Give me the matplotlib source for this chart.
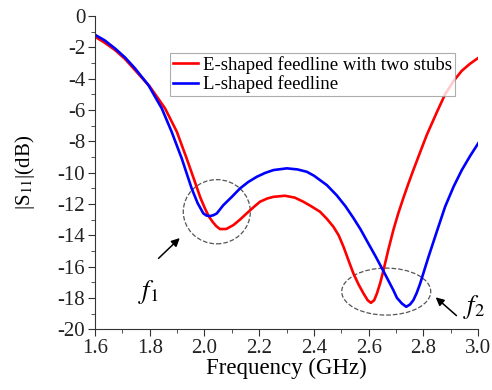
import numpy as np
import matplotlib
matplotlib.use('Agg')
import matplotlib.pyplot as plt
from matplotlib.patches import Ellipse
from matplotlib.ticker import MultipleLocator, FormatStrFormatter, FuncFormatter

plt.rcParams['font.family'] = ['Liberation Serif', 'DejaVu Serif']
plt.rcParams['mathtext.fontset'] = 'stix'

# values
blue_f = [1.60, 1.635, 1.673, 1.71, 1.746, 1.795, 1.844, 1.880, 1.917, 1.953, 1.975, 1.996,
          2.008, 2.020, 2.033, 2.045, 2.069, 2.10, 2.130, 2.16, 2.191, 2.222, 2.252, 2.301,
          2.34, 2.374, 2.40, 2.422, 2.447, 2.483, 2.515, 2.544, 2.57, 2.593, 2.625, 2.654,
          2.690, 2.703, 2.721, 2.737, 2.751, 2.763, 2.775, 2.788, 2.818, 2.85, 2.879, 2.91,
          2.940, 2.97, 3.00]
blue_s = [-1.2, -1.55, -2.07, -2.65, -3.34, -4.41, -5.9, -7.39, -9.1, -11.0, -11.95, -12.61,
          -12.75, -12.78, -12.72, -12.61, -12.08, -11.55, -11.01, -10.6, -10.27, -10.02, -9.84, -9.73,
          -9.8, -9.95, -10.2, -10.48, -10.8, -11.45, -12.15, -12.9, -13.62, -14.35, -15.35, -16.3,
          -17.51, -18.0, -18.36, -18.57, -18.42, -18.15, -17.7, -17.08, -15.4, -13.7, -12.18, -10.9,
          -9.84, -8.95, -8.13]

red_f = [1.60, 1.635, 1.673, 1.71, 1.746, 1.80, 1.856, 1.899, 1.935, 1.965, 1.985, 2.002,
         2.016, 2.03, 2.043, 2.057, 2.08, 2.106, 2.13, 2.154, 2.18, 2.203, 2.23, 2.252,
         2.294, 2.33, 2.361, 2.39, 2.422, 2.447, 2.471, 2.49, 2.508, 2.526, 2.544, 2.563,
         2.581, 2.596, 2.608, 2.620, 2.630, 2.642, 2.654, 2.672, 2.690, 2.708, 2.727, 2.745,
         2.763, 2.79, 2.812, 2.85, 2.879, 2.91, 2.940, 2.97, 3.00]
red_s = [-1.32, -1.7, -2.17, -2.75, -3.45, -4.5, -5.9, -7.39, -9.1, -10.59, -11.6, -12.3,
         -12.8, -13.15, -13.42, -13.61, -13.6, -13.35, -13.0, -12.61, -12.2, -11.86, -11.65, -11.55,
         -11.48, -11.6, -11.86, -12.15, -12.5, -12.95, -13.46, -14.0, -14.74, -15.6, -16.44, -17.15,
         -17.72, -18.15, -18.32, -18.15, -17.72, -17.05, -16.23, -14.9, -13.67, -12.6, -11.6, -10.7,
         -9.84, -8.6, -7.6, -6.1, -5.0, -4.15, -3.5, -3.05, -2.68]

labels = ['E-shaped feedline with two stubs', 'L-shaped feedline']

fig = plt.figure(figsize=(4.92, 3.9), dpi=100)
ax = fig.add_axes([0.193, 0.156, 0.779, 0.803])

ax.plot(red_f, red_s, color='#ff0000', lw=1.9, label=labels[0], solid_joinstyle='round')
ax.plot(blue_f, blue_s, color='#0000ff', lw=1.9, label=labels[1], solid_joinstyle='round')

ax.set_xlim(1.6, 3.0)
ax.set_ylim(-20, 0)
ax.xaxis.set_major_locator(MultipleLocator(0.2))
ax.xaxis.set_minor_locator(MultipleLocator(0.1))
ax.yaxis.set_major_locator(MultipleLocator(2))
ax.yaxis.set_minor_locator(MultipleLocator(1))
ax.xaxis.set_major_formatter(FormatStrFormatter('%.1f'))
ax.yaxis.set_major_formatter(FuncFormatter(lambda v, p: '%d' % v))

for side in ['top', 'right']:
    ax.spines[side].set_visible(False)
for side in ['left', 'bottom']:
    ax.spines[side].set_color('#333333')
ax.tick_params(which='major', direction='out', length=5, color='#333333', labelsize=15,
               labelcolor='#222222', pad=2)
ax.tick_params(which='minor', direction='out', length=3, color='#333333')

ax.set_xlabel('Frequency (GHz)', fontsize=16.5, labelpad=0)
ax.set_ylabel(r'|S$_{11}$|(dB)', fontsize=15, labelpad=15)

leg = ax.legend(loc='upper left', bbox_to_anchor=(0.196, 0.882), fontsize=13.5, frameon=True,
                fancybox=False, borderpad=0.15, handlelength=1.35, handletextpad=0.25,
                labelspacing=0.1, borderaxespad=0)
leg.get_frame().set_edgecolor('#999999')
leg.get_frame().set_linewidth(0.8)

ax.add_patch(Ellipse((2.045, -12.5), 0.245, 4.1, fill=False, ls='--', lw=0.9, color='#555555'))
ax.add_patch(Ellipse((2.664, -17.6), 0.325, 3.0, fill=False, ls='--', lw=0.9, color='#555555'))

ax.annotate('', xy=(1.917, -14.06), xytext=(1.825, -15.6),
            arrowprops=dict(arrowstyle='-|>', color='black', lw=1.1, mutation_scale=12))
ax.annotate('', xy=(2.837, -17.85), xytext=(2.928, -19.25),
            arrowprops=dict(arrowstyle='-|>', color='black', lw=1.1, mutation_scale=12),
            annotation_clip=False)
ax.text(1.795, -17.6, r'$f_{\mathit{1}}$', fontsize=19, ha='center', va='center')
ax.text(2.985, -18.6, r'$f_{2}$', fontsize=19, ha='center', va='center', clip_on=False)

fig.savefig('out.png', dpi=100)
